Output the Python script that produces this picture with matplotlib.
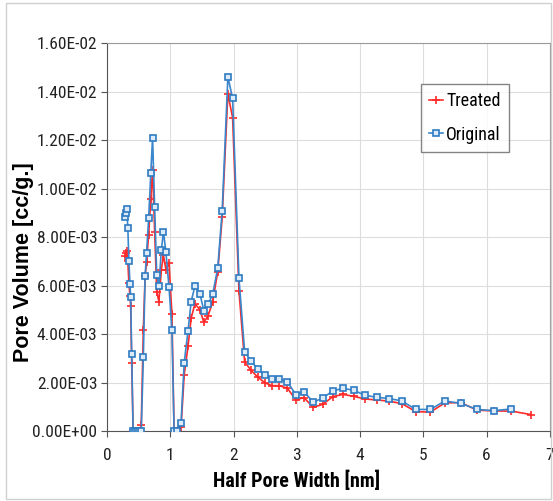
import numpy as np
import matplotlib
matplotlib.use("Agg")
from matplotlib import pyplot as plt
from matplotlib import font_manager
from matplotlib.patches import Rectangle

# half pore width [nm]
x_orig = [0.279, 0.296, 0.312, 0.329, 0.346, 0.363, 0.374, 0.390, 0.413, 0.441, 0.474, 0.508, 0.541,
          0.574, 0.602, 0.625, 0.658, 0.692, 0.720, 0.753, 0.786, 0.820, 0.859, 0.892, 0.931, 0.980,
          1.026, 1.060, 1.100, 1.170, 1.220, 1.280, 1.330, 1.390, 1.470, 1.530, 1.595, 1.670, 1.750,
          1.820, 1.910, 1.985, 2.085, 2.175, 2.275, 2.380, 2.490, 2.605, 2.720, 2.850, 2.985, 3.110,
          3.260, 3.410, 3.570, 3.730, 3.900, 4.080, 4.270, 4.460, 4.660, 4.880, 5.110, 5.340, 5.590,
          5.850, 6.110, 6.390]
x_treat = x_orig + [6.700]

# pore volume [cc/g]
v_orig = [8.81e-3, 8.99e-3, 9.18e-3, 8.39e-3, 7.00e-3, 6.05e-3, 5.53e-3, 3.19e-3, 0, 0, 0, 0, 0,
          3.05e-3, 6.38e-3, 7.33e-3, 8.77e-3, 1.063e-2, 1.211e-2, 9.25e-3, 6.42e-3, 5.98e-3, 7.48e-3,
          8.22e-3, 7.38e-3, 5.93e-3, 4.18e-3, 0, 0, 3.4e-4, 2.82e-3, 4.13e-3, 5.34e-3, 5.99e-3,
          5.64e-3, 4.97e-3, 5.22e-3, 5.64e-3, 6.73e-3, 9.07e-3, 1.462e-2, 1.372e-2, 6.31e-3, 3.26e-3,
          2.90e-3, 2.56e-3, 2.32e-3, 2.14e-3, 2.14e-3, 2.03e-3, 1.50e-3, 1.63e-3, 1.19e-3, 1.36e-3,
          1.66e-3, 1.76e-3, 1.68e-3, 1.47e-3, 1.39e-3, 1.34e-3, 1.24e-3, 8.9e-4, 8.9e-4, 1.24e-3,
          1.14e-3, 8.9e-4, 8.4e-4, 9.1e-4]
v_treat = [7.21e-3, 7.34e-3, 7.43e-3, 7.00e-3, 6.09e-3, 5.56e-3, 5.14e-3, 2.82e-3, 0, 0, 0, 0, 2.3e-4,
           4.16e-3, 6.38e-3, 6.98e-3, 8.09e-3, 9.59e-3, 1.079e-2, 8.23e-3, 5.75e-3, 5.34e-3, 6.66e-3,
           7.25e-3, 6.66e-3, 6.95e-3, 4.81e-3, 0, 0, 1.6e-4, 2.32e-3, 3.49e-3, 4.66e-3, 5.25e-3,
           5.00e-3, 4.48e-3, 4.74e-3, 5.33e-3, 6.57e-3, 8.81e-3, 1.391e-2, 1.293e-2, 5.79e-3, 2.85e-3,
           2.51e-3, 2.23e-3, 2.00e-3, 1.87e-3, 1.87e-3, 1.77e-3, 1.28e-3, 1.38e-3, 9.8e-4, 1.10e-3,
           1.42e-3, 1.51e-3, 1.43e-3, 1.32e-3, 1.28e-3, 1.23e-3, 1.13e-3, 8.0e-4, 7.8e-4, 1.16e-3,
           1.17e-3, 8.6e-4, 8.3e-4, 8.2e-4, 6.8e-4]

y_ticks = np.arange(0, 0.0161, 0.002)
y_ticklabels = ["0.00E+00", "2.00E-03", "4.00E-03", "6.00E-03", "8.00E-03",
                "1.00E-02", "1.20E-02", "1.40E-02", "1.60E-02"]

plt.rcParams["font.family"] = ["Liberation Sans", "DejaVu Sans"]

# pick an Arial-Narrow-like face from what is installed
names = {f.name for f in font_manager.fontManager.ttflist}
narrow_fam = "Liberation Sans"
for cand in ["Liberation Sans Narrow", "Arimo Narrow", "Roboto Condensed",
             "Archivo Narrow", "Asap Condensed", "Barlow Semi Condensed"]:
    if cand in names:
        narrow_fam = cand
        break
narrow = [narrow_fam, "DejaVu Sans"]

fig = plt.figure(figsize=(5.53, 5.01), dpi=100)
ax = fig.add_axes([0.1935, 0.1397, 0.801, 0.774])

ax.plot(x_treat, v_treat, color="#ff2a2a", lw=1.2, marker="+", ms=6, mew=1.2,
        label="Treated", zorder=3)
ax.plot(x_orig, v_orig, color="#3a86cc", lw=1.2, marker="s", ms=4.5, mew=1.2,
        mfc="#dcebf7", mec="#2f7bc2", label="Original", zorder=4)

ax.set_xlim(0, 7)
ax.set_ylim(0, 0.016)
ax.set_xticks(range(0, 8))
ax.set_yticks(y_ticks)
ax.set_yticklabels(y_ticklabels)

ax.grid(True, color="#dddddd", lw=0.8)
ax.set_axisbelow(True)
ax.tick_params(direction="out", length=4, color="#555555", labelsize=12.5,
               labelcolor="#222222", labelfontfamily=narrow_fam)
ax.tick_params(axis="y", pad=3)
ax.tick_params(axis="x", pad=8)
for side in ["top", "right"]:
    ax.spines[side].set_color("#999999")
for side in ["left", "bottom"]:
    ax.spines[side].set_color("#555555")

ax.set_xlabel("Half Pore Width [nm]", fontsize=14.5, fontweight="bold", family=narrow)
ax.xaxis.set_label_coords(0.427, -0.103)
ax.set_ylabel("Pore Volume [cc/g.]", fontsize=15.5, fontweight="bold")
ax.yaxis.set_label_coords(-0.165, 0.435)

leg = ax.legend(loc="upper right", bbox_to_anchor=(0.907, 0.894),
                prop={"family": narrow, "size": 13},
                fancybox=False, edgecolor="#666666", handlelength=0.8,
                handletextpad=0.15, borderpad=0.45, labelspacing=0.85, borderaxespad=0)
leg.get_frame().set_linewidth(1.0)

# thin outer frame around the chart area
fig.patches.append(Rectangle((0.011, 0.004), 0.986, 0.99, transform=fig.transFigure,
                             fill=False, edgecolor="#d0d0d0", lw=1.0))

fig.savefig("out.png", dpi=100)
